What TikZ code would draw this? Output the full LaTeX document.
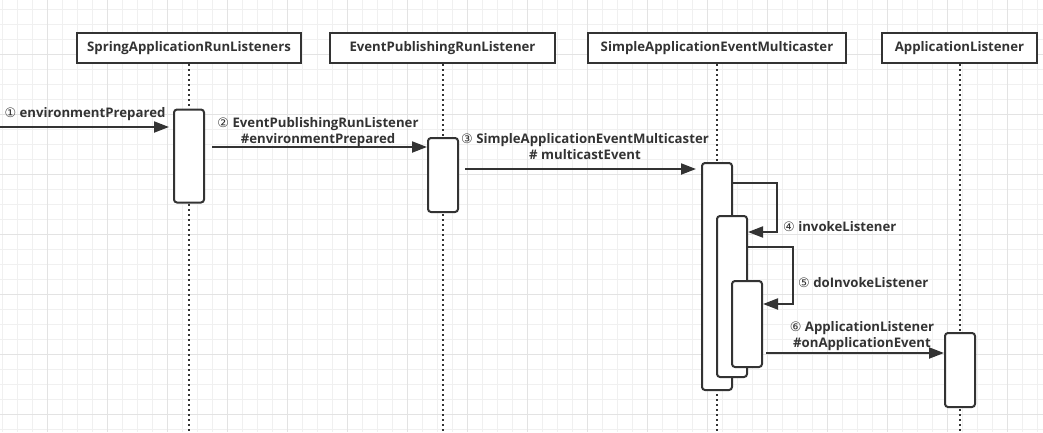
\documentclass[tikz,border=0pt]{standalone}
\usepackage{fontspec}
\setmainfont{Open Sans}
\newfontfamily\circfont{DejaVu Sans}
\usepackage{tikz}
\usetikzlibrary{arrows.meta, positioning}
\definecolor{lineGray}{RGB}{51,51,51}
\definecolor{gridMinor}{RGB}{240,240,240}
\definecolor{gridMajor}{RGB}{227,227,227}
\newcommand{\stepmark}[1]{{\circfont\mdseries\fontsize{13}{16}\selectfont #1}}
\tikzset{
	header/.style={draw=lineGray, line width=2pt, fill=white, minimum height=30pt,
		inner sep=0pt, text=lineGray, font=\bfseries\fontsize{13.2}{16}\selectfont},
	activation/.style={draw=lineGray, line width=2pt, fill=white, rounded corners=3pt,
		minimum width=30pt, inner sep=0pt},
	lifeline/.style={draw=lineGray, line width=2pt, dash pattern=on 2pt off 3pt},
	msg/.style={draw=lineGray, line width=2pt, -{Triangle[length=15pt,width=11pt]}},
	msglabel/.style={text=lineGray, align=center, inner sep=0pt,
		font=\bfseries\fontsize{13.2}{16}\selectfont}
}

\begin{document}
\begin{tikzpicture}[x=1pt, y=-1pt]
	\useasboundingbox (0,0) rectangle (1043,432);
	% grid
	\foreach \gx in {2,17,...,1043} \draw[gridMinor, line width=1pt] (\gx,0) -- (\gx,432);
	\foreach \gy in {9,24,...,432} \draw[gridMinor, line width=1pt] (0,\gy) -- (1043,\gy);
	\foreach \gx in {47,107,...,1043} \draw[gridMajor, line width=1pt] (\gx,0) -- (\gx,432);
	\foreach \gy in {54,114,...,432} \draw[gridMajor, line width=1pt] (0,\gy) -- (1043,\gy);

	\coordinate (bottom) at (0,432);
	\coordinate (start) at (0,127);

	% participants
	\node[header, minimum width=224pt] (runListeners) at (189,48) {SpringApplicationRunListeners};
	\node[header, minimum width=225pt] (publisher) at (442.5,48) {EventPublishingRunListener};
	\node[header, minimum width=258pt] (multicaster) at (717,48) {SimpleApplicationEventMulticaster};
	\node[header, minimum width=155pt] (appListener) at (959.5,48) {ApplicationListener};

	% lifelines
	\foreach \p in {runListeners, publisher, multicaster, appListener}
		\draw[lifeline] (\p.south) -- (\p.south |- bottom);

	% activations
	\node[activation, minimum height=93pt] (actRun) at (189,156) {};
	\node[activation, minimum height=74pt] (actPub) at (443,175) {};
	\node[activation, minimum height=227pt] (actMulti) at (717,276.5) {};
	\node[activation, minimum height=161pt] (actInvoke) at (732,296.5) {};
	\node[activation, minimum height=86pt] (actDoInvoke) at (747,324) {};
	\node[activation, minimum height=74pt] (actListener) at (960,370) {};

	% messages
	\draw[msg, shorten >=4pt] (start) -- (actRun.west |- start);
	\draw[msg, shorten <=7pt] (actRun.east |- 0,147) -- (actPub.west |- 0,147);
	\draw[msg, shorten <=6pt, shorten >=5pt] (actPub.east |- 0,169) -- (actMulti.west |- 0,169);
	\draw[msg] (actMulti.east |- 0,183) -- ++(44,0) |- (actInvoke.east |- 0,232);
	\draw[msg] (actInvoke.east |- 0,247) -- ++(45,0) |- (actDoInvoke.east |- 0,304);
	\draw[msg, shorten <=3pt] (actDoInvoke.east |- 0,353) -- (actListener.west |- 0,353);

	% labels
	\node[msglabel] (lblPrepared) at (85,114) {\stepmark{①} environmentPrepared};
	\node[msglabel] (lblPublisher) at (318,132.5) {\stepmark{②} EventPublishingRunListener\\\#environmentPrepared};
	\node[msglabel] (lblMulticast) at (585,146.5) {\stepmark{③} SimpleApplicationEventMulticaster\\\# multicastEvent};
	\node[msglabel, anchor=west] (lblInvoke) at (783,227) {\stepmark{④} invokeListener};
	\node[msglabel, anchor=west] (lblDoInvoke) at (798,283) {\stepmark{⑤} doInvokeListener};
	\node[msglabel] (lblOnEvent) at (862,336) {\stepmark{⑥} ApplicationListener\\\#onApplicationEvent};
\end{tikzpicture}
\end{document}
